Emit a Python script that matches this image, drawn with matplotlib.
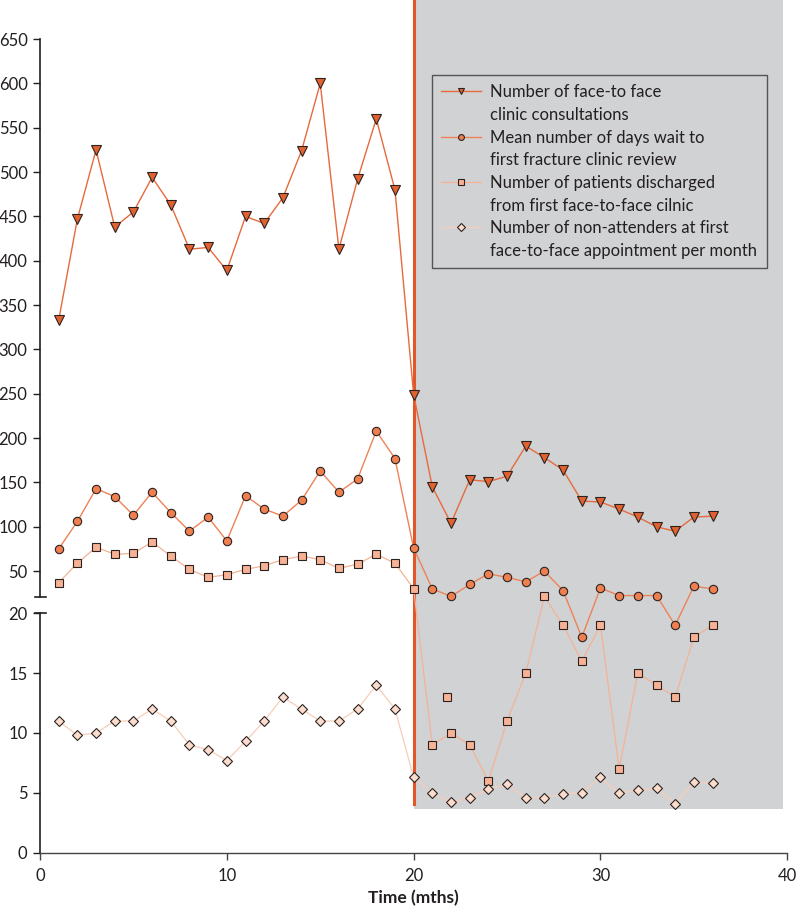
import numpy as np
import matplotlib
matplotlib.use("Agg")
import matplotlib.pyplot as plt
from matplotlib.lines import Line2D
from matplotlib.ticker import NullLocator
from matplotlib.transforms import blended_transform_factory

plt.rcParams['font.family'] = ['Lato', 'DejaVu Sans']

# data
months = list(range(1, 37))
consultations = [333, 447, 525, 438, 455, 494, 463, 413, 415, 389, 450, 442,
                 471, 524, 600, 413, 492, 560, 480, 249, 145, 104, 153, 151,
                 157, 191, 178, 164, 129, 128, 120, 111, 100, 95, 111, 112]
wait_days = [75, 106, 143, 134, 113, 139, 116, 95, 111, 84, 135, 120,
             112, 130, 163, 139, 154, 208, 177, 76, 30, 21.5, 35, 47,
             43, 38, 50, 28, 18, 31, 22.5, 22.5, 22.5, 19, 33, 30]
discharged = [37, 59, 77, 69, 70, 83, 67, 52, 43, 46, 52, 56,
              63, 67, 63, 53, 58, 69, 59, 30, 9, 10, 9, 6,
              11, 15, 21.5, 19, 16, 19, 7, 15, 14, 13, 18, 19]
non_attenders = [11, 9.8, 10, 11, 11, 12, 11, 9, 8.6, 7.7, 9.3, 11,
                 13, 12, 11, 11, 12, 14, 12, 6.3, 5.0, 4.2, 4.6, 5.3,
                 5.7, 4.6, 4.6, 4.9, 5.0, 6.3, 5.0, 5.2, 5.4, 4.1, 5.9, 5.8]
stray_x = [21.8]
stray_y = [13]

labels = [("Number of face-to face", "clinic consultations"),
          ("Mean number of days wait to", "first fracture clinic review"),
          ("Number of patients discharged", "from first face-to-face cilnic"),
          ("Number of non-attenders at first", "face-to-face appointment per month")]

xticks = [0, 10, 20, 30, 40]
yticks = [0, 5, 10, 15, 20, 50, 100, 150, 200, 250, 300, 350, 400, 450,
          500, 550, 600, 650]

# broken axis: 0-21.4 stretched, rest compressed
BREAK = 21.4
RATIO = 13.5


def fwd(y):
    y = np.asarray(y, dtype=float)
    return np.where(y <= BREAK, y * RATIO, BREAK * RATIO + (y - BREAK))


def inv(u):
    u = np.asarray(u, dtype=float)
    return np.where(u <= BREAK * RATIO, u / RATIO, u - BREAK * RATIO + BREAK)


ink = '#231f20'
grey = '#d1d2d4'
c_tri, l_tri = '#e2622f', '#e66a3c'
c_cir, l_cir = '#f07f50', '#ee8257'
c_sq, l_sq = '#f7b295', '#f5b294'
c_dia, l_dia = '#fcdccc', '#f8cdb8'

fig = plt.figure(figsize=(7.97, 9.06), dpi=100)
ax = fig.add_axes([0.0502, 0.0588, 0.9376, 0.9412])
ax.set_yscale('function', functions=(fwd, inv))
ax.set_xlim(0, 40)
ax.set_ylim(0, 694)

# shaded post-intervention period and marker line
ax.fill_between([20, 39.75], 3.65, 694, color=grey, lw=0, zorder=0)
ax.plot([20, 20], [4.07, 694], color='#e2562a', lw=2.2, zorder=1)

mk = dict(markeredgecolor='#2b2220', markeredgewidth=0.8)
h1, = ax.plot(months, consultations, color=l_tri, lw=1.0, marker='v', ms=7,
              markerfacecolor=c_tri, zorder=4, **mk)
h2, = ax.plot(months, wait_days, color=l_cir, lw=1.0, marker='o', ms=6,
              markerfacecolor=c_cir, zorder=4, **mk)
h3, = ax.plot(months, discharged, color=l_sq, lw=0.9, marker='s', ms=5.4,
              markerfacecolor=c_sq, zorder=3, **mk)
ax.plot(stray_x, stray_y, ls='none', marker='s', ms=5.4,
        markerfacecolor=c_sq, zorder=3, **mk)
h4, = ax.plot(months, non_attenders, color=l_dia, lw=0.9, marker='D', ms=5.6,
              markerfacecolor=c_dia, zorder=3, **mk)

# axes styling
for s in ['top', 'right', 'left']:
    ax.spines[s].set_visible(False)
ax.spines['bottom'].set_color('#444444')
ax.spines['bottom'].set_linewidth(1.0)
ax.set_xticks(xticks)
ax.set_yticks(yticks)
ax.yaxis.set_minor_locator(NullLocator())
ax.tick_params(axis='both', direction='out', colors=ink, labelsize=12,
               length=5, width=1.0)
ax.tick_params(axis='x', pad=6, color='#444444')
ax.tick_params(axis='y', pad=4, length=5)
ax.set_xlabel('Time (mths)', fontsize=12.5, fontweight='bold', color=ink,
              labelpad=4)

# left spine drawn in two pieces with break marks
trans = blended_transform_factory(ax.transAxes, ax.transData)
ax.plot([0, 0], [0, 20], color=ink, lw=1.2, transform=trans, clip_on=False)
ax.plot([0, 0], [BREAK, 650], color=ink, lw=1.2, transform=trans,
        clip_on=False)
for yb in [20, BREAK]:
    ax.plot([-0.0065, 0.0085], [yb, yb], color=ink, lw=1.2, transform=trans,
            clip_on=False)

# legend: one row per text line, marker on first line
blank = Line2D([], [], alpha=0)
handles = []
texts = []
for h, (a, b) in zip([h1, h2, h3, h4], labels):
    handles += [h, blank]
    texts += [a, b]
leg = ax.legend(handles, texts, loc='upper left',
                bbox_to_anchor=(0.5246, 0.912), fontsize=12,
                frameon=True, fancybox=False, facecolor='none',
                edgecolor='#555555', framealpha=1, labelspacing=0.4,
                handlelength=2.4, handletextpad=0.55, borderpad=0.55,
                borderaxespad=0, markerscale=0.7)
leg.get_frame().set_linewidth(1.0)
for t in leg.get_texts():
    t.set_color(ink)

fig.savefig('out.png', dpi=100)
